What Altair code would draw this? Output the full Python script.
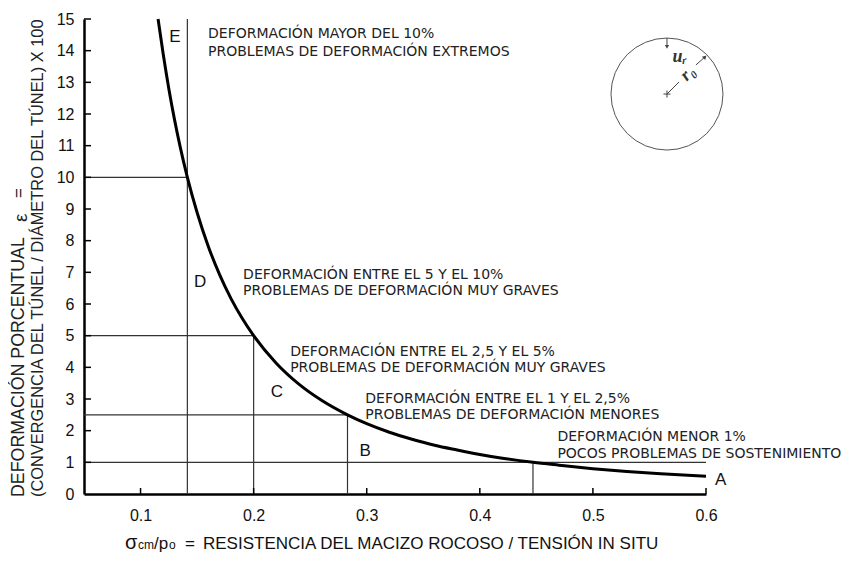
import altair as alt
import pandas as pd

# ---------------- data ----------------
X_TICKS = [0.1, 0.2, 0.3, 0.4, 0.5, 0.6]
Y_TICKS = list(range(0, 16))

CURVE_X = [0.1155, 0.12, 0.125, 0.13, 0.135, 0.1414, 0.15, 0.16, 0.17, 0.18, 0.19, 0.20,
           0.22, 0.24, 0.26, 0.283, 0.30, 0.32, 0.34, 0.36, 0.38, 0.40, 0.42, 0.447,
           0.47, 0.50, 0.53, 0.56, 0.60]
CURVE_Y = [15.0, 13.9, 12.8, 11.83, 10.97, 10.0, 8.89, 7.81, 6.92, 6.17, 5.54, 5.0,
           4.13, 3.47, 2.96, 2.5, 2.22, 1.95, 1.73, 1.54, 1.39, 1.25, 1.13, 1.0,
           0.91, 0.80, 0.71, 0.64, 0.56]

H_LEVEL = [10, 5, 2.5, 1]
H_START = [0.05, 0.05, 0.05, 0.05]
H_END = [0.1414, 0.2, 0.283, 0.6]

V_X = [0.1414, 0.2, 0.283, 0.447]
V_TOP = [15, 5, 2.5, 1]

ZONE = ["E", "D", "C", "B", "A"]
ZONE_X = [0.1305, 0.1527, 0.2205, 0.2987, 0.613]
ZONE_Y = [14.44, 6.71, 3.21, 1.36, 0.45]

NOTE_L1 = ["DEFORMACIÓN MAYOR DEL 10%",
           "DEFORMACIÓN ENTRE EL 5 Y EL 10%",
           "DEFORMACIÓN ENTRE EL 2,5 Y EL 5%",
           "DEFORMACIÓN ENTRE EL 1 Y EL 2,5%",
           "DEFORMACIÓN MENOR 1%"]
NOTE_L2 = ["PROBLEMAS DE DEFORMACIÓN EXTREMOS",
           "PROBLEMAS DE DEFORMACIÓN MUY GRAVES",
           "PROBLEMAS DE DEFORMACIÓN MUY GRAVES",
           "PROBLEMAS DE DEFORMACIÓN MENORES",
           "POCOS PROBLEMAS DE SOSTENIMIENTO"]
NOTE_X = [0.1597, 0.1907, 0.2323, 0.2987, 0.4686]
NOTE_Y1 = [14.53, 6.92, 4.49, 3.01, 1.81]
NOTE_Y2 = [13.97, 6.42, 3.99, 2.50, 1.27]

# tunnel sketch (circle of radius r0 with convergence u_r)
SKETCH_CX = [0.5655]
SKETCH_CY = [12.63]
UR_X = [0.5655, 0.5655]
UR_Y = [14.40, 14.12]
R_SEG_X0 = [0.5655, 0.5911]
R_SEG_Y0 = [12.63, 13.55]
R_SEG_X1 = [0.5761, 0.5991]
R_SEG_Y1 = [13.01, 13.80]
SKETCH_LABEL = ["uᵣ", "r₀"]
SKETCH_LX = [0.5765, 0.5840]
SKETCH_LY = [13.80, 13.28]
SKETCH_ANGLE = [0, 315]

XT_PIECES = ["σ", "cm", "/p", "o", "=", "RESISTENCIA DEL MACIZO ROCOSO / TENSIÓN IN SITU"]
XT_SIZE = [20, 12, 17, 12, 17, 17]

YT_PIECES = ["DEFORMACIÓN PORCENTUAL", "ε", "=",
             "(CONVERGENCIA DEL TÚNEL / DIÁMETRO DEL TÚNEL) X 100"]
YT_SIZE = [17.8, 19, 17, 16.4]

# ---------------- chart ----------------
W, H = 622, 475
xs = alt.Scale(domain=[0.05, 0.6], nice=False, zero=False)
ys = alt.Scale(domain=[0, 15], nice=False, zero=True)

x_axis = alt.Axis(values=X_TICKS, format=".1f", ticks=False, tickSize=0, labelPadding=13,
                  labelFontSize=16, labelFont="Liberation Sans", labelColor="#111",
                  labelFlush=False, domainWidth=2.5, domainColor="#000", grid=False,
                  title=None)
y_axis = alt.Axis(values=Y_TICKS, format="d", ticks=False, tickSize=0, labelPadding=10,
                  labelFontSize=16, labelFont="Liberation Sans", labelColor="#111",
                  labelFlush=False, domainWidth=2.5, domainColor="#000", grid=False,
                  title=None)


def X(f):
    return alt.X(f, type="quantitative", scale=xs, axis=x_axis)


def Y(f):
    return alt.Y(f, type="quantitative", scale=ys, axis=y_axis)


curve_df = pd.DataFrame({"x": CURVE_X, "y": CURVE_Y})
h_df = pd.DataFrame({"x0": H_START, "x1": H_END, "y": H_LEVEL})
v_df = pd.DataFrame({"x": V_X, "y0": [0] * len(V_X), "y1": V_TOP})
zone_df = pd.DataFrame({"x": ZONE_X, "y": ZONE_Y, "t": ZONE})
note1_df = pd.DataFrame({"x": NOTE_X, "y": NOTE_Y1, "t": NOTE_L1})
note2_df = pd.DataFrame({"x": NOTE_X, "y": NOTE_Y2, "t": NOTE_L2})
xt_df = pd.DataFrame({"x": X_TICKS})
yt_df = pd.DataFrame({"y": Y_TICKS[1:]})

line_color = "#333"

hlines = alt.Chart(h_df).mark_rule(color=line_color, strokeWidth=1.2).encode(
    x=X("x0"), x2="x1", y=Y("y"))
vlines = alt.Chart(v_df).mark_rule(color=line_color, strokeWidth=1.2).encode(
    x=X("x"), y=Y("y0"), y2="y1")
curve = alt.Chart(curve_df).mark_line(color="#000", strokeWidth=3, interpolate="monotone").encode(
    x=X("x"), y=Y("y"))
xticks = alt.Chart(xt_df).mark_rule(color="#000", strokeWidth=1.5).encode(
    x=X("x"), y=alt.value(H), y2=alt.value(H - 6))
yticks = alt.Chart(yt_df).mark_rule(color="#000", strokeWidth=1.5).encode(
    y=Y("y"), x=alt.value(0), x2=alt.value(7))

zones = alt.Chart(zone_df).mark_text(font="Liberation Sans", fontSize=17, color="#111").encode(
    x=X("x"), y=Y("y"), text="t:N")
notes1 = alt.Chart(note1_df).mark_text(font="DejaVu Sans", fontSize=14, color="#222",
                                       align="left", baseline="middle").encode(
    x=X("x"), y=Y("y"), text="t:N")
notes2 = alt.Chart(note2_df).mark_text(font="DejaVu Sans", fontSize=14, color="#222",
                                       align="left", baseline="middle").encode(
    x=X("x"), y=Y("y"), text="t:N")

# sketch
sk_circle = alt.Chart(pd.DataFrame({"x": SKETCH_CX, "y": SKETCH_CY})).mark_point(
    shape="circle", size=12544, filled=False, color="#555", strokeWidth=1, opacity=1).encode(
    x=X("x"), y=Y("y"))
sk_center = alt.Chart(pd.DataFrame({"x": SKETCH_CX, "y": SKETCH_CY})).mark_point(
    shape="M-1,0L1,0M0,-1L0,1", size=50, filled=False, color="#444", strokeWidth=1, opacity=1).encode(
    x=X("x"), y=Y("y"))
ur_df = pd.DataFrame({"x0": [UR_X[0]], "y0": [UR_Y[0]], "x1": [UR_X[1]], "y1": [UR_Y[1]]})
sk_ur = alt.Chart(ur_df).mark_rule(color="#444", strokeWidth=1).encode(
    x=X("x0"), y=Y("y0"), y2="y1")
sk_ur_head = alt.Chart(pd.DataFrame({"x": [UR_X[1]], "y": [UR_Y[1]]})).mark_point(
    shape="triangle-down", size=18, filled=True, color="#444", opacity=1).encode(
    x=X("x"), y=Y("y"))
rseg_df = pd.DataFrame({"x0": R_SEG_X0, "y0": R_SEG_Y0, "x1": R_SEG_X1, "y1": R_SEG_Y1})
sk_r = alt.Chart(rseg_df).mark_rule(color="#444", strokeWidth=1).encode(
    x=X("x0"), y=Y("y0"), x2="x1", y2="y1")
sk_r_head = alt.Chart(pd.DataFrame({"x": [R_SEG_X1[1]], "y": [R_SEG_Y1[1]]})).mark_point(
    shape="triangle-up", angle=45, size=22, filled=True, color="#444", opacity=1).encode(
    x=X("x"), y=Y("y"))
sk_lab_df = pd.DataFrame({"x": SKETCH_LX, "y": SKETCH_LY, "t": SKETCH_LABEL, "a": SKETCH_ANGLE})
sk_labels = alt.Chart(sk_lab_df).mark_text(font="Liberation Serif", fontSize=18, fontStyle="italic",
                                           fontWeight="bold", color="#333").encode(
    x=X("x"), y=Y("y"), text="t:N", angle=alt.Angle("a:Q", scale=None))

# x axis title, composed of pieces (small "cm" and "o")
xt_left = [41, 54, 70, 85, 101, 119]
xt_layers = []
for piece, size, px in zip(XT_PIECES, XT_SIZE, xt_left):
    xt_layers.append(
        alt.Chart(pd.DataFrame({"t": [piece]})).mark_text(
            font="Liberation Sans", fontSize=size, color="#111", align="left",
            baseline="alphabetic").encode(x=alt.value(px), y=alt.value(H + 55), text="t:N"))

# y axis title, rotated, two lines starting at the bottom
yt_pos = [(-65, H + 3), (-63, 222 - 19), (-65, 198 - 19), (-46, H + 3)]
yt_layers = []
for piece, size, (px, py) in zip(YT_PIECES, YT_SIZE, yt_pos):
    yt_layers.append(
        alt.Chart(pd.DataFrame({"t": [piece]})).mark_text(
            font="Liberation Sans", fontSize=size, color="#222", align="left",
            baseline="middle", angle=270).encode(x=alt.value(px), y=alt.value(py), text="t:N"))

chart = alt.layer(
    hlines, vlines, curve, xticks, yticks, zones, notes1, notes2,
    sk_circle, sk_center, sk_ur, sk_ur_head, sk_r, sk_r_head, sk_labels,
    *xt_layers, *yt_layers
).properties(
    width=W, height=H,
    autosize=alt.AutoSizeParams(type="none"),
    padding={"left": 76, "top": 11, "right": 140, "bottom": 60},
    background="white"
).configure_view(stroke=None)

chart.save("out.html", embed_options={"renderer": "svg", "actions": False})
